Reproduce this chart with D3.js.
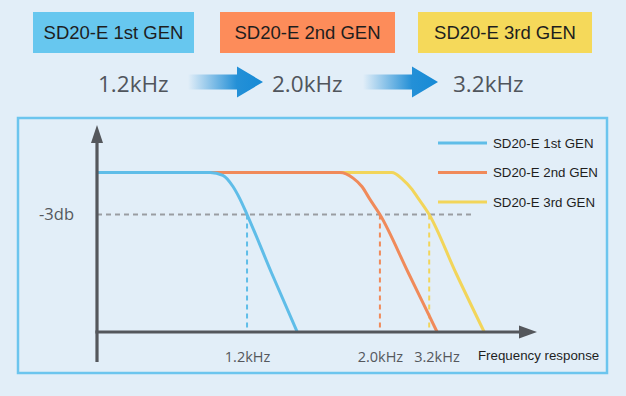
<!DOCTYPE html>
<html><head><meta charset="utf-8">
<script src="https://cdn.jsdelivr.net/npm/d3@7"></script>
<style>
html,body{margin:0;padding:0;background:#e2eef8;}
svg{display:block;}
</style></head>
<body>
<svg id="c" width="626" height="396"></svg>
<script>
// ---- data ----
const generations = ["SD20-E 1st GEN", "SD20-E 2nd GEN", "SD20-E 3rd GEN"];
const cutoffLabels = ["1.2kHz", "2.0kHz", "3.2kHz"];
// position of -3dB crossing on the (schematic) frequency axis, 0..100
const cutoffPos = [34.1, 64.3, 75.5];
// response curves: [frequency position, level dB]
const gen1Curve = [[0,0],[25.7,0],[28.6,-0.2],[30.9,-1.0],[32.5,-1.9],[34.1,-3],[39.7,-7.2],[45.5,-11.4]];
const gen2Curve = [[0,0],[55.2,0],[58.2,-0.4],[60.2,-1.0],[62.0,-1.9],[64.3,-3],[70.8,-7.2],[77.3,-11.4]];
const gen3Curve = [[0,0],[67.0,0],[69.5,-0.5],[71.6,-1.2],[72.7,-1.7],[75.5,-3],[81.6,-7.2],[88.0,-11.4]];
const refLevel = -3;
const refLabel = "-3db";
const refLineEnd = 85.2;
const xTitle = "Frequency response";

const bannerColors = ["#67c7ef", "#fd8c5a", "#f5d95a"];
const lineColors = ["#5fbde8", "#f08a5a", "#f2d55a"];

const svg = d3.select("#c");
svg.append("rect").attr("width",626).attr("height",396).attr("fill","#e2eef8");

// ---- top banners ----
const banners = [{x:33,w:161},{x:220,w:175},{x:418,w:174}];
banners.forEach((b,i)=>{
  svg.append("rect").attr("x",b.x).attr("y",12).attr("width",b.w).attr("height",41).attr("fill",bannerColors[i]);
  svg.append("text").attr("x",b.x+b.w/2).attr("y",39).attr("text-anchor","middle")
    .attr("font-family","Liberation Sans, Arial, sans-serif").attr("font-size",18.5).attr("fill","#1e1e1e")
    .text(generations[i]);
});

// ---- frequency row with arrows ----
const defs = svg.append("defs");
const grad = defs.append("linearGradient").attr("id","ag").attr("x1","0").attr("x2","1").attr("y1","0").attr("y2","0");
grad.append("stop").attr("offset","0%").attr("stop-color","#1a8bd5").attr("stop-opacity",0);
grad.append("stop").attr("offset","65%").attr("stop-color","#1a8bd5").attr("stop-opacity",0.95);
grad.append("stop").attr("offset","100%").attr("stop-color","#168ad6").attr("stop-opacity",1);

const valX = [98, 272, 453];
cutoffLabels.forEach((t,i)=>{
  svg.append("text").attr("x",valX[i]).attr("y",92)
    .attr("font-family","Open Sans, Noto Sans, sans-serif").attr("font-size",22.5).attr("fill","#50555c")
    .text(t);
});
[[188,263],[363,438]].forEach(a=>{
  const [x0,x1]=a, cy=82, hs=7.5, hh=15.5, hl=26;
  svg.append("path").attr("fill","url(#ag)")
    .attr("d",`M${x0},${cy-hs}L${x1-hl},${cy-hs}L${x1-hl},${cy-hh}L${x1},${cy}L${x1-hl},${cy+hh}L${x1-hl},${cy+hs}L${x0},${cy+hs}Z`);
});

// ---- chart panel ----
svg.append("rect").attr("x",18).attr("y",118).attr("width",589).attr("height",255)
  .attr("fill","#e2eef8").attr("stroke","#6cc5ee").attr("stroke-width",2.5);

const x = d3.scaleLinear().domain([0,100]).range([97,537]);
const y = d3.scaleLinear().domain([-11.4,3.4]).range([332,125]);
const axisCol = "#54575c";

// reference -3dB dashed line
svg.append("line").attr("x1",x(0)).attr("x2",x(refLineEnd)).attr("y1",y(refLevel)).attr("y2",y(refLevel))
  .attr("stroke","#9a9da2").attr("stroke-width",2).attr("stroke-dasharray","5,4");
svg.append("text").attr("x",74).attr("y",y(refLevel)).attr("dy","0.35em").attr("text-anchor","end")
  .attr("font-family","Open Sans, Noto Sans, sans-serif").attr("font-size",16.5).attr("fill","#55585d").text(refLabel);

// vertical cutoff dashed lines
cutoffPos.forEach((p,i)=>{
  svg.append("line").attr("x1",x(p)).attr("x2",x(p)).attr("y1",y(refLevel)).attr("y2",y(-11.4))
    .attr("stroke",lineColors[i]).attr("stroke-width",2).attr("stroke-dasharray","5,4");
});

// curves
const line = d3.line().x(d=>x(d[0])).y(d=>y(d[1])).curve(d3.curveMonotoneX);
const curves = [gen1Curve, gen2Curve, gen3Curve];
[2,1,0].forEach(i=>{
  svg.append("path").datum(curves[i]).attr("d",line).attr("fill","none")
    .attr("stroke",lineColors[i]).attr("stroke-width",3).attr("stroke-linecap","butt");
});

// axes
const yAxisX = x(0), xAxisY = y(-11.4);
svg.append("line").attr("x1",yAxisX).attr("x2",yAxisX).attr("y1",xAxisY+30).attr("y2",y(3.4)+12)
  .attr("stroke",axisCol).attr("stroke-width",3.2);
svg.append("path").attr("fill",axisCol)
  .attr("d",`M${yAxisX},${y(3.4)}L${yAxisX+6},${y(3.4)+18}L${yAxisX-6},${y(3.4)+18}Z`);
svg.append("line").attr("x1",yAxisX-1.6).attr("x2",x(100)-12).attr("y1",xAxisY).attr("y2",xAxisY)
  .attr("stroke",axisCol).attr("stroke-width",3.2);
svg.append("path").attr("fill",axisCol)
  .attr("d",`M${x(100)},${xAxisY}L${x(100)-18},${xAxisY-6.5}L${x(100)-18},${xAxisY+6.5}Z`);

// x tick labels (with simple overlap avoidance)
const tickG = svg.append("g").attr("transform",`translate(0,${xAxisY})`)
  .call(d3.axisBottom(x).tickValues(cutoffPos).tickFormat((d,i)=>cutoffLabels[i]).tickSize(0).tickPadding(0));
tickG.select(".domain").remove();
tickG.selectAll("text").attr("font-family","Open Sans, Noto Sans, sans-serif").attr("font-size",14.5)
  .attr("fill","#55585d").attr("dy",null).attr("y",30);
let prevRight = -Infinity;
tickG.selectAll(".tick").each(function(d){
  const t = d3.select(this).select("text");
  const w = t.node().getComputedTextLength();
  let cx = x(d);
  if (cx - w/2 < prevRight + 11) {
    const shift = prevRight + 11 - (cx - w/2);
    t.attr("x", shift);
    cx += shift;
  }
  prevRight = cx + w/2;
});

svg.append("text").attr("x",478).attr("y",360)
  .attr("font-family","Liberation Sans, Arial, sans-serif").attr("font-size",13.3).attr("fill","#1e1e1e").text(xTitle);

// legend
generations.forEach((g,i)=>{
  const ly = 143 + i*29.5;
  svg.append("line").attr("x1",438).attr("x2",487).attr("y1",ly).attr("y2",ly)
    .attr("stroke",lineColors[i]).attr("stroke-width",3);
  svg.append("text").attr("x",493).attr("y",ly).attr("dy","0.36em")
    .attr("font-family","Liberation Sans, Arial, sans-serif").attr("font-size",13.3).attr("fill","#1e1e1e").text(g);
});
</script>
</body></html>
